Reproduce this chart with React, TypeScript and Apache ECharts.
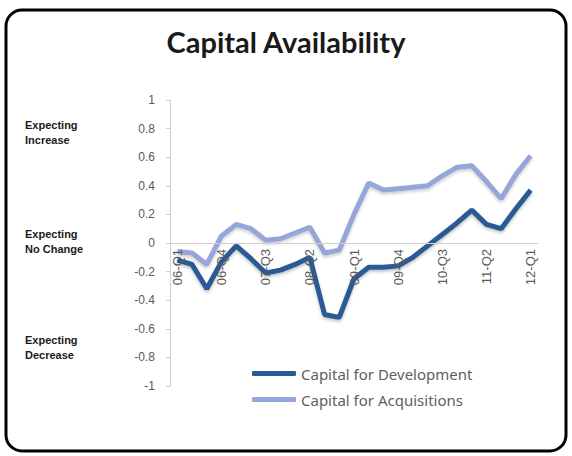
import React, { useEffect, useRef } from "react";
import * as echarts from "echarts";

const categories = [
  "06-Q1", "06-Q2", "06-Q3", "06-Q4",
  "07-Q1", "07-Q2", "07-Q3", "07-Q4",
  "08-Q1", "08-Q2", "08-Q3", "08-Q4",
  "09-Q1", "09-Q2", "09-Q3", "09-Q4",
  "10-Q1", "10-Q2", "10-Q3", "10-Q4",
  "11-Q1", "11-Q2", "11-Q3", "11-Q4",
  "12-Q1",
];

const seriesNames = ["Capital for Development", "Capital for Acquisitions"];

const development = [
  -0.12, -0.15, -0.32, -0.13, -0.02, -0.11, -0.21, -0.19, -0.15, -0.1,
  -0.5, -0.52, -0.25, -0.17, -0.17, -0.16, -0.1, -0.02, 0.06, 0.14,
  0.23, 0.13, 0.1, 0.24, 0.37,
];

const acquisitions = [
  -0.06, -0.07, -0.15, 0.05, 0.13, 0.1, 0.02, 0.03, 0.07, 0.11,
  -0.07, -0.05, 0.2, 0.42, 0.37, 0.38, 0.39, 0.4, 0.47, 0.53,
  0.54, 0.43, 0.31, 0.48, 0.61,
];

const sideLabels = [
  ["Expecting", "Increase"],
  ["Expecting", "No Change"],
  ["Expecting", "Decrease"],
];
const sideLabelTops = [117, 226, 332];

export default function App() {
  const ref = useRef<HTMLDivElement>(null);
  useEffect(() => {
    if (!ref.current) return;
    const chart = echarts.init(ref.current, undefined, { renderer: "svg" });
    const colors = ["#2c5a94", "#97a6d8"];
    const gridTop = 100;
    const gridBottom = 70;
    const gridHeight = 456 - gridTop - gridBottom;
    chart.setOption({
      animation: false,
      backgroundColor: "#ffffff",
      title: {
        text: "Capital Availability",
        left: "center",
        top: 22,
        textStyle: {
          fontFamily: "Lato",
          fontWeight: "bold",
          fontSize: 29,
          color: "#1a1a1a",
        },
      },
      legend: {
        orient: "vertical",
        left: 247,
        top: 361,
        icon: "roundRect",
        itemWidth: 44,
        itemHeight: 5,
        itemGap: 11,
        data: seriesNames,
        textStyle: { fontFamily: "Noto Sans", fontSize: 15, color: "#606060" },
      },
      grid: { left: 170, right: 34, top: gridTop, bottom: gridBottom, containLabel: false },
      xAxis: {
        type: "category",
        data: categories,
        boundaryGap: true,
        position: "bottom",
        offset: -gridHeight / 2,
        z: 10,
        axisLine: { onZero: false, lineStyle: { color: "#d0d0d0", width: 1 } },
        axisTick: { show: false },
        axisLabel: {
          interval: 2,
          rotate: 90,
          fontSize: 13,
          fontFamily: "Liberation Sans",
          color: "#595959",
          margin: 6,
        },
      },
      yAxis: {
        type: "value",
        min: -1,
        max: 1,
        interval: 0.2,
        axisLine: { show: true, lineStyle: { color: "#d0d0d0" } },
        axisTick: { show: true, length: 4, lineStyle: { color: "#d0d0d0" } },
        splitLine: { show: false },
        axisLabel: {
          fontSize: 12,
          fontFamily: "Liberation Sans",
          color: "#595959",
          margin: 15,
        },
      },
      series: [
        {
          name: seriesNames[0],
          type: "line",
          data: development,
          symbol: "none",
          lineStyle: { width: 5, color: colors[0], shadowColor: "rgba(0,0,0,0.25)", shadowBlur: 3, shadowOffsetY: 2 },
          itemStyle: { color: colors[0] },
          z: 3,
        },
        {
          name: seriesNames[1],
          type: "line",
          data: acquisitions,
          symbol: "none",
          lineStyle: { width: 5, color: colors[1], shadowColor: "rgba(0,0,0,0.2)", shadowBlur: 3, shadowOffsetY: 2 },
          itemStyle: { color: colors[1] },
          z: 2,
        },
      ],
      graphic: [
        {
          type: "rect",
          shape: { x: 6, y: 10, width: 560, height: 441, r: 16 },
          style: { fill: "none", stroke: "#000", lineWidth: 3 },
          z: 10,
        },
        ...sideLabels.map((lines, i) => ({
          type: "text",
          left: 25,
          top: sideLabelTops[i],
          style: {
            text: lines.join("\n"),
            font: "bold 11px 'Liberation Sans'",
            lineHeight: 15,
            fill: "#1a1a1a",
          },
        })),
      ],
    });
    return () => chart.dispose();
  }, []);
  return (
    <div
      ref={ref}
      style={{ position: "fixed", left: 0, top: 0, width: 572, height: 456 }}
    />
  );
}
